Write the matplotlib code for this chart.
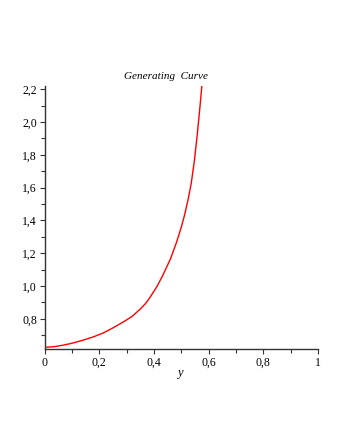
import numpy as np
import matplotlib.pyplot as plt
from matplotlib.ticker import MultipleLocator, FuncFormatter

# points
curve_x = [0.0, 0.035, 0.07, 0.105, 0.143, 0.18, 0.216, 0.25, 0.289, 0.32,
           0.35, 0.37, 0.385, 0.41, 0.433, 0.46, 0.482, 0.50, 0.512, 0.525,
           0.536, 0.547, 0.557, 0.566, 0.575]
curve_y = [0.626, 0.630, 0.640, 0.653, 0.671, 0.691, 0.715, 0.745, 0.782, 0.815,
           0.86, 0.895, 0.93, 0.995, 1.068, 1.165, 1.265, 1.36, 1.435, 1.53,
           1.625, 1.755, 1.905, 2.055, 2.22]

title = "Generating  Curve"
xlabel = "y"

plt.rcParams["font.family"] = ["Liberation Serif", "DejaVu Serif"]

fig = plt.figure(figsize=(3.46, 4.48), dpi=100)
ax = fig.add_axes([44.7 / 346, 1 - 349.3 / 448, (318 - 44.7) / 346, (349.3 - 86) / 448])

ax.plot(curve_x, curve_y, color="#ff0000", lw=1.0)

ax.set_xlim(0, 1)
ax.set_ylim(0.614, 2.22)
for s in ["top", "right"]:
    ax.spines[s].set_visible(False)
for s in ["left", "bottom"]:
    ax.spines[s].set_color("#333333")
    ax.spines[s].set_linewidth(1.0)

ax.xaxis.set_major_locator(MultipleLocator(0.2))
ax.xaxis.set_minor_locator(MultipleLocator(0.1))
ax.yaxis.set_major_locator(MultipleLocator(0.2))
ax.yaxis.set_minor_locator(MultipleLocator(0.1))


def xfmt(v, pos):
    if abs(v) < 1e-9:
        return "0"
    if abs(v - 1) < 1e-9:
        return "1"
    return f"{v:.1f}".replace(".", ",")


ax.xaxis.set_major_formatter(FuncFormatter(xfmt))
ax.yaxis.set_major_formatter(FuncFormatter(lambda v, p: f"{v:.1f}".replace(".", ",")))

ax.tick_params(which="both", direction="out", color="#333333", width=0.8, labelsize=8.5, pad=2)
ax.tick_params(which="major", length=3.5)
ax.tick_params(which="minor", length=3)

fig.text(166 / 346, 1 - 76 / 448, title, ha="center", va="center", fontsize=8, style="italic")
fig.text(180 / 346, 1 - 373 / 448, xlabel, ha="center", va="center", fontsize=9, style="italic")

fig.savefig("out.png", dpi=100)
